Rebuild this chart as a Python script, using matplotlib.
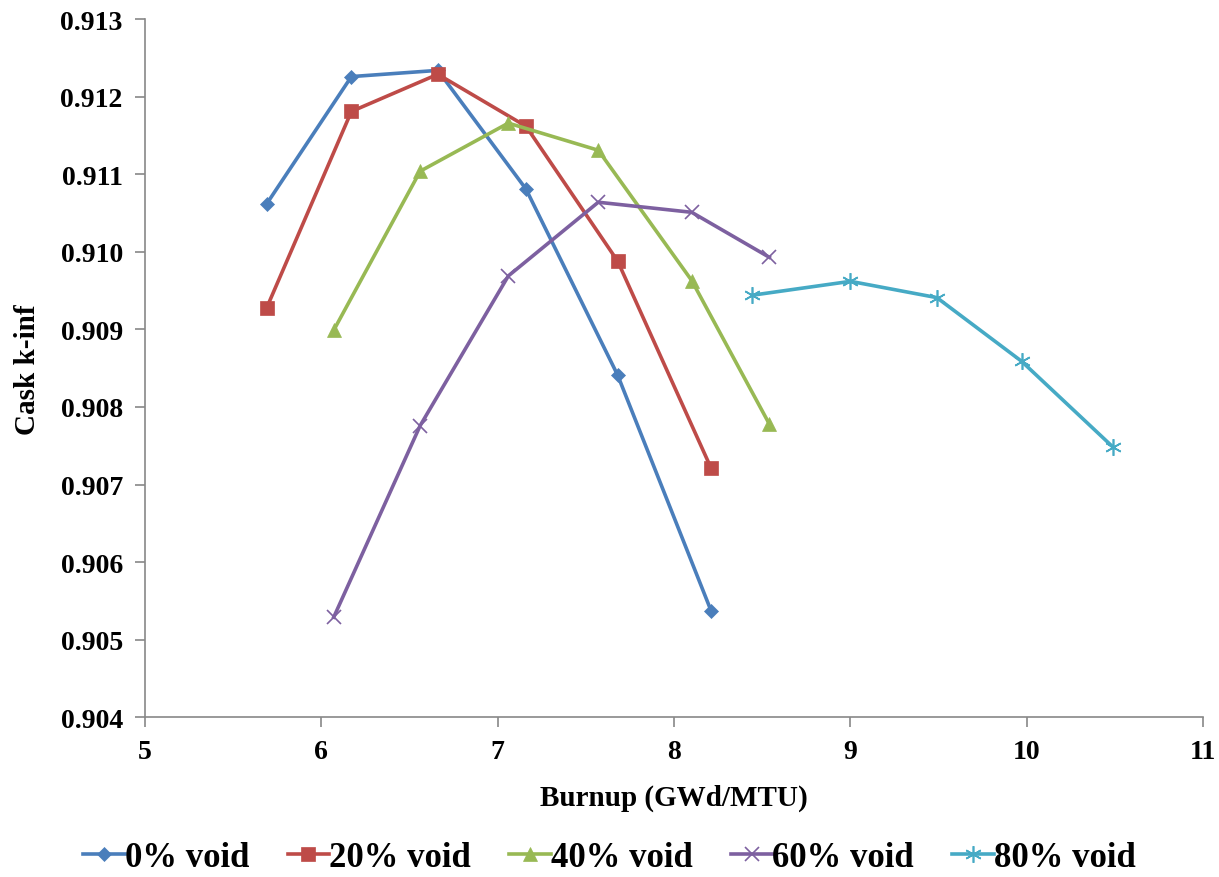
import matplotlib
matplotlib.use("Agg")

import matplotlib.pyplot as plt

# Burnup (GWd/MTU) and cask k-inf
burnup_0 = [5.69, 6.17, 6.66, 7.16, 7.68, 8.21]
kinf_0 = [0.91062, 0.91226, 0.91234, 0.91081, 0.90841, 0.90537]

burnup_20 = [5.69, 6.17, 6.66, 7.16, 7.68, 8.21]
kinf_20 = [0.90928, 0.91181, 0.91229, 0.91162, 0.90988, 0.90721]

burnup_40 = [6.07, 6.56, 7.06, 7.57, 8.10, 8.54]
kinf_40 = [0.90899, 0.91104, 0.91166, 0.91131, 0.90963, 0.90778]

burnup_60 = [6.07, 6.56, 7.06, 7.57, 8.10, 8.54]
kinf_60 = [0.90529, 0.90776, 0.90969, 0.91064, 0.91051, 0.90993]

burnup_80 = [8.44, 9.00, 9.49, 9.97, 10.49]
kinf_80 = [0.90944, 0.90962, 0.90941, 0.90859, 0.90748]

labels = ["0% void", "20% void", "40% void", "60% void", "80% void"]
colors = ["#4A7EBB", "#BE4B48", "#98B954", "#7D60A0", "#46AAC5"]
markers = ["D", "s", "^", "x", (6, 2, 0)]
msizes = [7.5, 10, 10, 10, 12]

plt.rcParams["font.family"] = ["Liberation Serif", "DejaVu Serif"]
plt.rcParams["font.weight"] = "bold"

fig = plt.figure(figsize=(12.19, 8.78), dpi=100)
ax = fig.add_axes([0.119, 0.182, 0.868, 0.795])

series = [
    (burnup_0, kinf_0),
    (burnup_20, kinf_20),
    (burnup_40, kinf_40),
    (burnup_60, kinf_60),
    (burnup_80, kinf_80),
]
for (x, y), lab, c, m, ms in zip(series, labels, colors, markers, msizes):
    ax.plot(x, y, color=c, linewidth=2.6, marker=m, markersize=ms,
            markeredgewidth=1.2 if m in ("x", (6, 2, 0)) else 0.5,
            markeredgecolor=c, label=lab)

ax.set_xlim(5, 11)
ax.set_ylim(0.904, 0.913)
ax.set_xticks(range(5, 12))
ax.set_yticks([0.904 + 0.001 * i for i in range(10)])
ax.set_yticklabels([f"{0.904 + 0.001 * i:.3f}" for i in range(10)])

for side in ("top", "right"):
    ax.spines[side].set_visible(False)
for side in ("left", "bottom"):
    ax.spines[side].set_color("#888888")
    ax.spines[side].set_linewidth(1.2)

ax.tick_params(direction="out", length=7, width=1.2, color="#888888",
               labelsize=20, pad=9)
for t in ax.get_xticklabels() + ax.get_yticklabels():
    t.set_fontweight("bold")

ax.set_xlabel("Burnup (GWd/MTU)", fontsize=21, fontweight="bold", labelpad=14)
ax.set_ylabel("Cask k-inf", fontsize=21, fontweight="bold", labelpad=14)

leg = fig.legend(loc="center", bbox_to_anchor=(0.5, 0.022), ncol=5,
                 frameon=False, handlelength=1.2,
                 handletextpad=0.0, columnspacing=1.1,
                 prop={"weight": "bold", "size": 25})

fig.savefig("out.png", dpi=100)
